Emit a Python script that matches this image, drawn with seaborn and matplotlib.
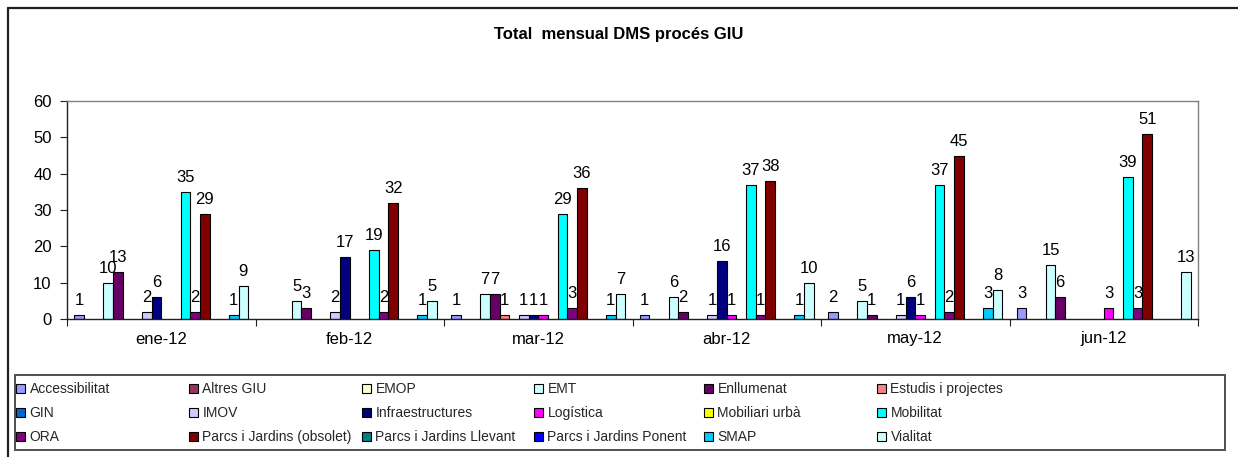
import matplotlib
matplotlib.use("Agg")
import matplotlib.pyplot as plt
from matplotlib.patches import Patch, Rectangle
from matplotlib.lines import Line2D
import numpy as np
import pandas as pd
import seaborn as sns

# Months on the category axis
meses = ["ene-12", "feb-12", "mar-12", "abr-12", "may-12", "jun-12"]

# Process areas (series), in legend order
series = [
    "Accessibilitat", "Altres GIU", "EMOP", "EMT", "Enllumenat",
    "Estudis i projectes", "GIN", "IMOV", "Infraestructures", "Logística",
    "Mobiliari urbà", "Mobilitat", "ORA", "Parcs i Jardins (obsolet)",
    "Parcs i Jardins Llevant", "Parcs i Jardins Ponent", "SMAP", "Vialitat",
]

colores = [
    "#9999FF", "#993366", "#FFFFCC", "#CCFFFF", "#660066", "#FF8080",
    "#0066CC", "#CCCCFF", "#000080", "#FF00FF", "#FFFF00", "#00FFFF",
    "#800080", "#800000", "#008080", "#0000FF", "#00CCFF", "#CCFFFF",
]

# Monthly totals per series (same order as `series`)
ene_12 = [1, 0, 0, 10, 13, 0, 0, 2, 6, 0, 0, 35, 2, 29, 0, 0, 1, 9]
feb_12 = [0, 0, 0, 5, 3, 0, 0, 2, 17, 0, 0, 19, 2, 32, 0, 0, 1, 5]
mar_12 = [1, 0, 0, 7, 7, 1, 0, 1, 1, 1, 0, 29, 3, 36, 0, 0, 1, 7]
abr_12 = [1, 0, 0, 6, 2, 0, 0, 1, 16, 1, 0, 37, 1, 38, 0, 0, 1, 10]
may_12 = [2, 0, 0, 5, 1, 0, 0, 1, 6, 1, 0, 37, 2, 45, 0, 0, 3, 8]
jun_12 = [3, 0, 0, 15, 6, 0, 0, 0, 0, 3, 0, 39, 3, 51, 0, 0, 0, 13]

totales = [ene_12, feb_12, mar_12, abr_12, may_12, jun_12]

filas = []
for mes, vals in zip(meses, totales):
    for s, v in zip(series, vals):
        if v > 0:
            filas.append({"mes": mes, "serie": s, "valor": v})
df = pd.DataFrame(filas)

sns.set_theme(style="white")
plt.rcParams["font.family"] = ["Liberation Sans", "DejaVu Sans"]

W, H = 1238, 457
fig = plt.figure(figsize=(W / 100, H / 100), dpi=100)
fig.patch.set_facecolor("white")

# Plot area in pixel coordinates
x0, x1, ytop, ybot = 67, 1198, 101, 319
ax = fig.add_axes([x0 / W, 1 - ybot / H, (x1 - x0) / W, (ybot - ytop) / H])

paleta = dict(zip(series, colores))
sns.barplot(
    data=df, x="mes", y="valor", hue="serie",
    order=meses, hue_order=series, palette=paleta,
    width=18 / 19.5, dodge=True, edgecolor="black", linewidth=0.8,
    saturation=1, legend=False, ax=ax, errorbar=None,
)

for cont in ax.containers:
    ax.bar_label(cont, fmt="%g", padding=5, fontsize=12, color="black")

ax.set_xlim(-0.5, len(meses) - 0.5)
ax.set_ylim(0, 60)
ax.set_yticks(np.arange(0, 61, 10))
ax.set_xlabel("")
ax.set_ylabel("")

# Category boundaries as tick marks, labels centred on groups
ax.set_xticks(np.arange(len(meses)))
ax.set_xticklabels(meses)
ax.set_xticks(np.arange(-0.5, len(meses)), minor=True)
ax.tick_params(axis="x", which="major", length=0, pad=9, labelsize=12, colors="black")
ax.tick_params(axis="x", which="minor", length=5, width=0.8, direction="out",
               bottom=True, color="#202020")
ax.tick_params(axis="y", which="major", length=5, width=0.8, direction="out",
               left=True, pad=6, labelsize=12, colors="black")
ax.tick_params(axis="y", color="#202020")

for side in ["top", "right"]:
    ax.spines[side].set_visible(True)
    ax.spines[side].set_color("#808080")
    ax.spines[side].set_linewidth(1.0)
for side in ["left", "bottom"]:
    ax.spines[side].set_color("#202020")
    ax.spines[side].set_linewidth(1.0)
ax.grid(False)

# Title
fig.text(619 / W, 1 - 35 / H, "Total  mensual DMS procés GIU",
         ha="center", va="center", fontsize=12, fontweight="bold", color="black")

# Outer chart frame (top and left edges in view)
fig.add_artist(Line2D([8 / W, 1.0], [1 - 8 / H, 1 - 8 / H], transform=fig.transFigure,
                      color="#202020", linewidth=1.6))
fig.add_artist(Line2D([8 / W, 8 / W], [1 - 8 / H, 0.0], transform=fig.transFigure,
                      color="#202020", linewidth=1.6))

# Legend box
lx0, lx1, ly0, ly1 = 15, 1225, 375, 450
fig.add_artist(Rectangle((lx0 / W, 1 - ly1 / H), (lx1 - lx0) / W, (ly1 - ly0) / H,
                         transform=fig.transFigure, fill=False,
                         edgecolor="#505050", linewidth=1.4))

# Legend: six equal columns, three rows (row-major order)
col_x = [16, 189, 362, 534, 704, 877]
for c in range(6):
    idx = [c, c + 6, c + 12]
    handles = [Patch(facecolor=colores[i], edgecolor="black", linewidth=0.8) for i in idx]
    labels = [series[i] for i in idx]
    leg = fig.legend(handles, labels, loc="upper left",
                     bbox_to_anchor=(col_x[c] / W, 1 - 382 / H),
                     frameon=False, fontsize=10, borderpad=0, borderaxespad=0,
                     handlelength=0.62, handleheight=0.62, handletextpad=0.35,
                     labelspacing=0.72)

fig.savefig("out.png", dpi=100)
